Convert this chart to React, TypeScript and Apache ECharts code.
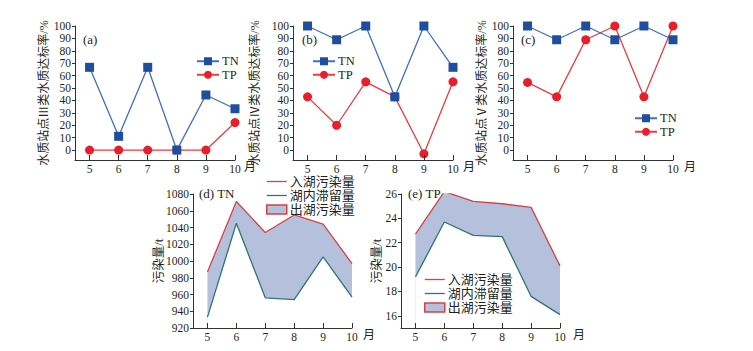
import React, { useEffect, useRef } from "react";
import * as echarts from "echarts";

const months = [5, 6, 7, 8, 9, 10];
const aTN = [66.7, 11.1, 66.7, 0, 44.4, 33.3];
const aTP = [0, 0, 0, 0, 0, 22.2];
const bTN = [100, 88.9, 100, 42.9, 100, 66.7];
const bTP = [42.9, 20, 55, 42.9, -3, 55];
const cTN = [100, 88.9, 100, 88.9, 100, 88.9];
const cTP = [54.5, 42.9, 88.9, 100, 42.9, 100];
const dIn = [987, 1071, 1034, 1055, 1044, 997];
const dStay = [933, 1045, 956, 954, 1005, 957];
const eIn = [22.7, 26.2, 25.4, 25.2, 24.9, 20.1];
const eStay = [19.2, 23.7, 22.6, 22.5, 17.6, 16.1];
const rateTicks = [0, 10, 20, 30, 40, 50, 60, 70, 80, 90, 100];
const tnTicks = [920, 940, 960, 980, 1000, 1020, 1040, 1060, 1080];
const tpTicks = [16, 18, 20, 22, 24, 26];
const rateNames = ["水质站点Ⅲ类水质达标率/%", "水质站点Ⅳ类水质达标率/%", "水质站点Ⅴ类水质达标率/%"];
const loadName = "污染量/t";
const monthUnit = "月";

const FONT = "'Liberation Serif', 'Times New Roman', 'Noto Sans CJK SC', serif";
const TXT = "#231f20";
const AX = "#333";
const BLUE_L = "#3f6fc5";
const BLUE_M = "#1f4e9e";
const RED_L = "#ef3a3f";
const RED_M = "#e81e2a";
const IN_C = "#d9403f";
const STAY_C = "#2e7575";
const FILL = "#b5c0dc";
const LINE_ICON = "path://M0,0 L20,0 L20,1.3 L0,1.3 Z";
const TICK_FS = 11.5;

const pair = (vals: number[]) => months.map((m, i) => [m, vals[i]]);

export default function App() {
  const ref = useRef<HTMLDivElement>(null);
  useEffect(() => {
    if (!ref.current) return;
    const chart = echarts.init(ref.current, null, { renderer: "svg" });
    const grids = [
      { left: 75, top: 26, width: 160, height: 134 },
      { left: 293, top: 26, width: 160, height: 134 },
      { left: 513, top: 26, width: 160, height: 134 },
      { left: 193, top: 194, width: 159, height: 134 },
      { left: 401, top: 194, width: 159, height: 134 },
    ];
    const xNameGaps = [9, 10, 11, 11, 13];
    const xAxis = grids.map((_, i) => ({
      type: "value",
      gridIndex: i,
      min: 4.5,
      max: 10,
      z: 5,
      name: monthUnit,
      nameLocation: "end",
      nameGap: xNameGaps[i],
      nameMoveOverlap: false,
      nameTextStyle: { fontFamily: FONT, fontSize: 12, color: TXT, verticalAlign: "top", padding: [1, 0, 0, 0] },
      axisLine: { show: true, onZero: false, lineStyle: { color: AX, width: 1 } },
      axisTick: { show: true, inside: true, length: 5, customValues: months, lineStyle: { color: AX } },
      axisLabel: { customValues: months, margin: 3, fontFamily: FONT, fontSize: TICK_FS, color: TXT },
      splitLine: { show: false },
    }));
    const yCommon = (i: number) => ({
      type: "value",
      gridIndex: i,
      z: 5,
      nameLocation: "middle",
      nameRotate: 90,
      nameMoveOverlap: false,
      axisLine: { show: true, onZero: false, lineStyle: { color: AX, width: 1 } },
      splitLine: { show: false },
    });
    const lbl = (ticks: number[]) => ({
      customValues: ticks,
      margin: 4,
      fontFamily: FONT,
      fontSize: TICK_FS,
      color: TXT,
      formatter: (v: number) => String(v),
    });
    const tick = (ticks: number[]) => ({ show: true, length: 3, customValues: ticks, lineStyle: { color: AX } });
    const rateGaps = [25, 32, 25];
    const yAxis: any[] = [0, 1, 2].map((i) => ({
      ...yCommon(i),
      min: -8,
      max: 100,
      name: rateNames[i],
      nameGap: rateGaps[i],
      nameTextStyle: { fontFamily: FONT, fontSize: 12, color: TXT },
      axisTick: tick(rateTicks),
      axisLabel: lbl(rateTicks),
    }));
    yAxis.push({
      ...yCommon(3),
      min: 920,
      max: 1080,
      name: loadName,
      nameGap: 28,
      nameTextStyle: { fontFamily: FONT, fontSize: 12.5, color: TXT },
      axisTick: tick(tnTicks),
      axisLabel: lbl(tnTicks),
    });
    yAxis.push({
      ...yCommon(4),
      min: 15,
      max: 26,
      name: loadName,
      nameGap: 18,
      nameTextStyle: { fontFamily: FONT, fontSize: 12.5, color: TXT },
      axisTick: tick(tpTicks),
      axisLabel: lbl(tpTicks),
    });

    const rateSets = [
      [aTN, aTP],
      [bTN, bTP],
      [cTN, cTP],
    ];
    const series: any[] = [];
    rateSets.forEach(([tn, tp], i) => {
      series.push({
        type: "line",
        name: "TN",
        xAxisIndex: i,
        yAxisIndex: i,
        data: pair(tn),
        symbol: "rect",
        symbolSize: 9,
        itemStyle: { color: BLUE_M },
        lineStyle: { color: BLUE_L, width: 1.3 },
        z: 3,
      });
      series.push({
        type: "line",
        name: "TP",
        xAxisIndex: i,
        yAxisIndex: i,
        data: pair(tp),
        symbol: "circle",
        symbolSize: 9,
        itemStyle: { color: RED_M },
        lineStyle: { color: RED_L, width: 1.3 },
        z: 2,
      });
    });
    const loadSets = [
      [dIn, dStay],
      [eIn, eStay],
    ];
    loadSets.forEach(([inn, stay], k) => {
      const i = 3 + k;
      // inflow: filled down to the axis with the outflow colour
      series.push({
        type: "line",
        name: "入湖污染量",
        xAxisIndex: i,
        yAxisIndex: i,
        data: pair(inn),
        symbol: "none",
        itemStyle: { color: IN_C },
        lineStyle: { color: IN_C, width: 1.3 },
        areaStyle: { color: FILL, opacity: 1, origin: "start" },
        z: 2,
      });
      // retained: white below so that only the band between the two lines stays filled
      series.push({
        type: "line",
        name: "湖内滞留量",
        xAxisIndex: i,
        yAxisIndex: i,
        data: pair(stay),
        symbol: "none",
        itemStyle: { color: STAY_C },
        lineStyle: { color: STAY_C, width: 1.3 },
        areaStyle: { color: "#ffffff", opacity: 1, origin: "start" },
        z: 2,
      });
      series.push({
        type: "line",
        name: "出湖污染量",
        xAxisIndex: i,
        yAxisIndex: i,
        data: [],
        symbol: "none",
        itemStyle: { color: FILL },
      });
    });

    const rateLegend = (left: number, top: number) => ({
      orient: "vertical",
      left,
      top,
      itemWidth: 22,
      itemHeight: 10,
      itemGap: 1,
      padding: 0,
      selectedMode: false,
      textStyle: { fontFamily: FONT, fontSize: 12.5, color: TXT, padding: [0, 0, 0, -2] },
      data: ["TN", "TP"],
    });
    const loadLegend = (left: number, top: number) => ({
      orient: "vertical",
      left,
      top,
      itemWidth: 20,
      itemHeight: 9,
      itemGap: 1,
      padding: 0,
      selectedMode: false,
      textStyle: { fontFamily: FONT, fontSize: 13, color: TXT, padding: [0, 0, 0, -2] },
      data: [
        { name: "入湖污染量", icon: LINE_ICON, itemStyle: { color: IN_C } },
        { name: "湖内滞留量", icon: LINE_ICON, itemStyle: { color: STAY_C } },
        { name: "出湖污染量", icon: "rect", itemStyle: { color: FILL, borderColor: IN_C, borderWidth: 1.5 } },
      ],
    });

    const label = (text: string, x: number, y: number) => ({
      type: "text",
      left: x,
      top: y,
      z: 10,
      style: { text, fontFamily: FONT, fontSize: 13, fill: TXT },
    });

    chart.setOption({
      animation: false,
      backgroundColor: "#fff",
      grid: grids,
      xAxis,
      yAxis,
      series,
      legend: [
        rateLegend(196, 55),
        rateLegend(312, 55),
        rateLegend(634, 112),
        loadLegend(266, 175),
        loadLegend(424, 273),
      ],
      graphic: [
        label("(a)", 83, 33),
        label("(b)", 302, 33),
        label("(c)", 521, 33),
        label("(d) TN", 199, 187),
        label("(e) TP", 408, 187),
      ],
    });
    return () => chart.dispose();
  }, []);
  return (
    <div
      ref={ref}
      style={{ position: "absolute", left: 0, top: 0, width: 753, height: 351 }}
    />
  );
}
